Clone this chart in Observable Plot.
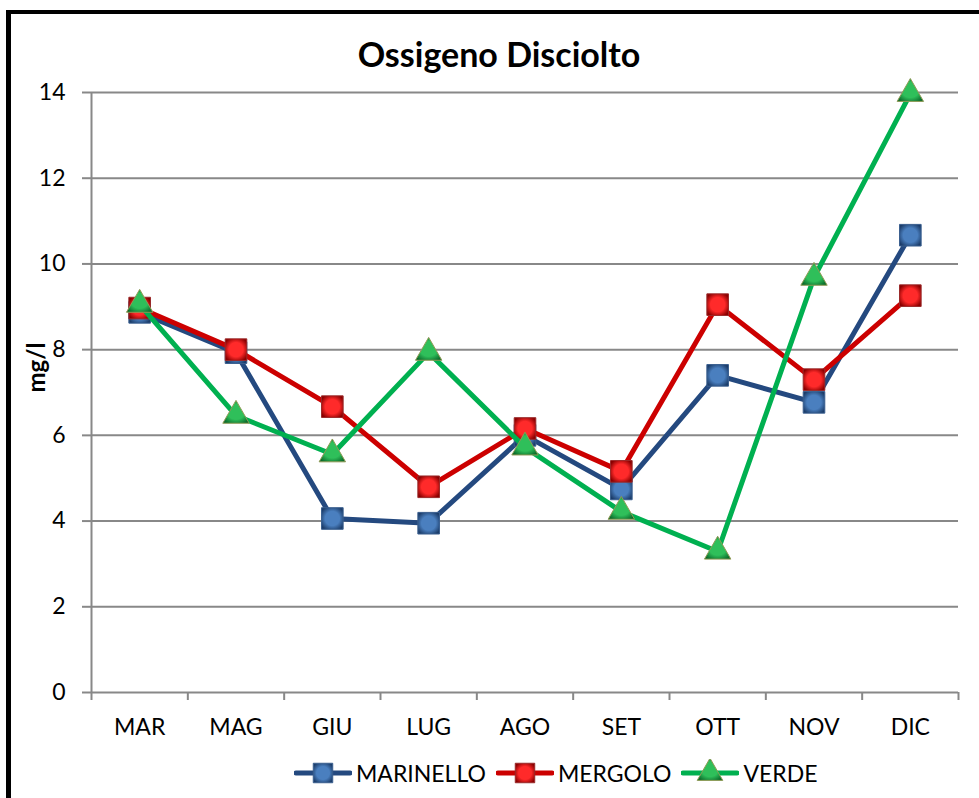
<!DOCTYPE html>
<html>
<head>
<meta charset="utf-8">
<script src="https://cdn.jsdelivr.net/npm/d3@7"></script>
<script src="https://cdn.jsdelivr.net/npm/@observablehq/plot@0.6"></script>
<style>
  html, body { margin: 0; padding: 0; background: #fff; width: 979px; height: 798px; overflow: hidden; }
  body { position: relative; font-family: Lato, "Open Sans", sans-serif; }
  #frame { position: absolute; left: 6px; top: 10px; width: 1100px; height: 900px; border-left: 5px solid #000; border-top: 4px solid #000; }
  #title { position: absolute; left: 0; top: 34px; width: 998px; text-align: center; font-weight: bold; font-size: 34px; line-height: 40px; color: #000; z-index: 2; }
  #chart { position: absolute; left: 0; top: 56px; }
  #legend { position: absolute; left: 294px; top: 759px; display: flex; align-items: center; font-size: 23px; color: #000; }
  #legend .item { display: flex; align-items: center; margin-right: 10px; }
  #legend svg { margin-right: 4px; }
</style>
</head>
<body>
<div id="frame"></div>
<div id="chart"></div>
<div id="title">Ossigeno Disciolto</div>
<div id="legend"></div>
<script>
const months = ["MAR","MAG","GIU","LUG","AGO","SET","OTT","NOV","DIC"];
const seriesNames = ["MARINELLO","MERGOLO","VERDE"];
const marinello = [8.87, 7.93, 4.06, 3.95, 6.0, 4.75, 7.4, 6.77, 10.67];
const mergolo   = [8.97, 8.0, 6.67, 4.8, 6.16, 5.16, 9.05, 7.3, 9.26];
const verde     = [9.05, 6.46, 5.56, 7.93, 5.72, 4.22, 3.29, 9.68, 13.97];
const yTicks = [0, 2, 4, 6, 8, 10, 12, 14];
const yLabel = "mg/l";

const values = [marinello, mergolo, verde];
const lineColors = ["#24497f", "#cc0000", "#00b050"];
const symbols = ["square", "square", "triangle"];
const radii = [12.2, 12.2, 9.8];
const markerStroke = ["#3a5f8f", "#9a2a2a", "#8f9a55"];
const grads = [
  ["#4a7fbf", "#1c3d6a"],
  ["#ff2a2a", "#8a0000"],
  ["#2fbf5a", "#0a6a2a"]
];

const rows = seriesNames.flatMap((s, k) => months.map((m, i) => ({series: s, k, i, month: m, v: values[k][i]})));
const boundaries = d3.range(-0.5, months.length, 1);
const gray = "#888888";

const marks = [
  Plot.gridY(yTicks, {stroke: gray, strokeOpacity: 1, strokeWidth: 2}),
  Plot.ruleX([-0.5], {stroke: gray, strokeWidth: 2}),
  Plot.axisY(yTicks, {tickSize: 9, tickPadding: 17, stroke: gray, strokeWidth: 2, fill: "#000", fontSize: 23, label: null}),
  Plot.axisX(boundaries, {tickSize: 8, tickFormat: () => "", stroke: gray, strokeWidth: 2, label: null}),
  Plot.axisX(d3.range(months.length), {tickSize: 0, tickPadding: 26, tickFormat: i => months[i], fill: "#000", fontSize: 23, label: null}),
  Plot.text([yLabel], {frameAnchor: "left", rotate: -90, dx: -54, fontWeight: "bold", fontSize: 24, fill: "#000"})
];
seriesNames.forEach((s, k) => {
  const data = rows.filter(d => d.series === s);
  marks.push(Plot.line(data, {x: "i", y: "v", stroke: lineColors[k], strokeWidth: 5, strokeLinejoin: "round"}));
  marks.push(Plot.dot(data, {x: "i", y: "v", symbol: symbols[k], r: radii[k], fill: `url(#grad${k})`, stroke: markerStroke[k], strokeWidth: 1}));
});

const chart = Plot.plot({
  width: 979,
  height: 704,
  marginTop: 36,
  marginBottom: 68,
  marginLeft: 91,
  marginRight: 21,
  style: {fontFamily: "Lato, 'Open Sans', sans-serif", background: "transparent", overflow: "visible"},
  x: {type: "linear", domain: [-0.5, months.length - 0.5], axis: null},
  y: {domain: [0, 14], axis: null},
  marks
});

const defs = grads.map((g, k) =>
  `<radialGradient id="grad${k}" cx="50%" cy="50%" r="60%"><stop offset="0%" stop-color="${g[0]}"/><stop offset="55%" stop-color="${g[0]}"/><stop offset="100%" stop-color="${g[1]}"/></radialGradient>`).join("");
chart.insertAdjacentHTML("afterbegin", `<defs>${defs}</defs>`);
document.getElementById("chart").appendChild(chart);

// legend
const legend = document.getElementById("legend");
seriesNames.forEach((s, k) => {
  const item = document.createElement("div");
  item.className = "item";
  const sym = d3.symbol(symbols[k] === "square" ? d3.symbolSquare : d3.symbolTriangle, Math.PI * (k === 2 ? 9.5 : 11) ** 2)();
  item.innerHTML = `<svg width="58" height="28" viewBox="0 0 58 28">
    <defs><radialGradient id="lgrad${k}" cx="50%" cy="50%" r="60%"><stop offset="0%" stop-color="${grads[k][0]}"/><stop offset="55%" stop-color="${grads[k][0]}"/><stop offset="100%" stop-color="${grads[k][1]}"/></radialGradient></defs>
    <line x1="2" x2="56" y1="14" y2="14" stroke="${lineColors[k]}" stroke-width="5" stroke-linecap="round"/>
    <path d="${sym}" transform="translate(29,14)" fill="url(#lgrad${k})" stroke="${markerStroke[k]}" stroke-width="1"/>
  </svg><span>${s}</span>`;
  legend.appendChild(item);
});
</script>
</body>
</html>
